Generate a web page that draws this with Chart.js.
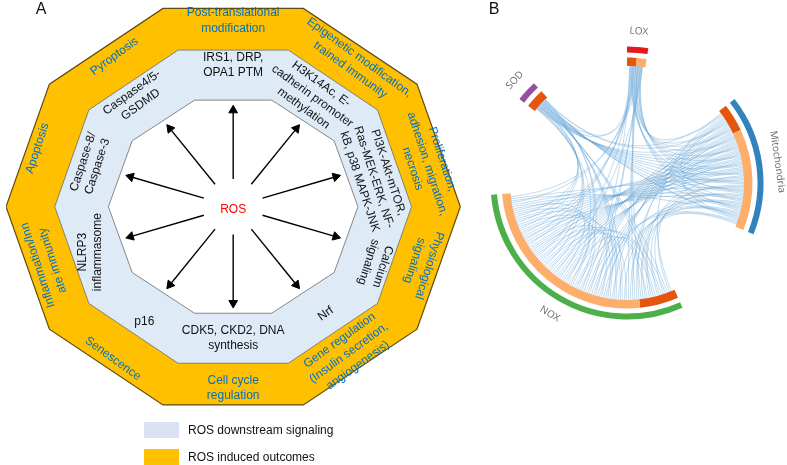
<!DOCTYPE html>
<html lang="en">
<head>
<meta charset="UTF-8">
<title>ROS signaling</title>
<script src="https://cdn.jsdelivr.net/npm/chart.js@4.4.0/dist/chart.umd.min.js"></script>
<style>
  html, body { margin: 0; padding: 0; background: #fff; }
  #chartA { position: absolute; left: 0; top: 0; }
  #chartB { position: absolute; left: 480px; top: 0; }
</style>
</head>
<body>
<canvas id="chartA" width="480" height="465"></canvas>
<canvas id="chartB" width="307" height="465"></canvas>
<script>
// panel A, one entry per side of the decagon, clockwise from the top
var outcomes = [
  'Post-translational\nmodification',
  'Epigenetic modification,\ntrained immunity',
  'Proliferation,\nadhesion, migration,\nnecrosis',
  'Physiological\nsignaling',
  'Gene regulation\n(Insulin secretion,\nangiogenesis)',
  'Cell cycle\nregulation',
  'Senescence',
  'Inflammation/Inn\nate immunity',
  'Apoptosis',
  'Pyroptosis'
];
var signaling = [
  'IRS1, DRP,\nOPA1 PTM',
  'H3K14Ac, E-\ncadherin promoter\nmethylation',
  'PI3K-Akt-mTOR,\nRas-MEK-ERK, NF-\nkB, p38 MAPK-JNK',
  'Calcium\nsignaling',
  'Nrf',
  'CDK5, CKD2, DNA\nsynthesis',
  'p16',
  'NLRP3\ninflammasome',
  'Caspase-8/\nCaspase-3',
  'Caspase4/5-\nGSDMD'
];
var legendLabels = ['ROS downstream signaling', 'ROS induced outcomes'];

// panel B, arcs in degrees clockwise from the top
var groups = ['LOX', 'Mitochondria', 'NOX', 'SOD'];
var groupArc = [9, 60, 109, 9];
var gapArc = [43, 44, 43, 43];
var subArc = [[4.5, 4.5], [13, 47], [18, 91], [9]];
var linkFrom  = ['NOX', 'NOX', 'NOX', 'Mitochondria', 'Mitochondria', 'NOX', 'Mitochondria', 'SOD'];
var linkTo    = ['Mitochondria', 'SOD', 'LOX', 'SOD', 'LOX', 'NOX', 'Mitochondria', 'LOX'];
var linkCount = [52, 15, 13, 14, 12, 12, 4, 2];

// ---- layout of panel A (pixels) ----
var cx = 233, cy = 206;
var rings = [{rx: 233, ry: 214}, {rx: 183, ry: 169}, {rx: 128, ry: 115}];
var outT     = [0.7, 0.6, 0.64, 0.62, 0.58, 0.6, 0.75, 0.6, 0.78, 0.7];
var outShift = [0, 7, 15, 0, 0, 0, 0, 0, 0, 0];
var outRot   = [0, 36, 72, 108, -36, 0, 36, -108, -72, -36];
var sigT     = [0.69, 0.5, 0.5, 0.7, 0.6, 0.5, 0.69, 0.63, 0.62, 0.67];
var sigShift = [0, -7, 12, 15, -6, 0, -2, -3, 0, -9];
var sigRot   = [0, 36, 72, 108, -36, 0, 0, -90, -72, -36];
var COS18 = Math.cos(Math.PI / 10);

function decagon(r) {
  var pts = [];
  for (var i = 0; i <= 10; i++) {
    var a = i * Math.PI / 5;
    pts.push({x: cx + r.rx * Math.cos(a), y: cy - r.ry * Math.sin(a)});
  }
  return pts;
}

function poly(r, fill, border, width, order) {
  return {
    data: decagon(r), showLine: true, fill: 'shape', backgroundColor: fill,
    borderColor: border, borderWidth: width, pointRadius: 0, order: order, tension: 0
  };
}

var datasetsA = [
  poly(rings[0], '#FFC000', '#5e4b14', 1.2, 3),
  poly(rings[1], '#DEEAF6', '#6b6b6b', 0.8, 2),
  poly(rings[2], '#ffffff', '#6b6b6b', 0.8, 1)
];

// one arrow per side, from ROS to the inner ring
for (var k = 0; k < 10; k++) {
  var a = (90 - 36 * k) * Math.PI / 180;
  var ex = COS18 * rings[2].rx * Math.cos(a), ey = -COS18 * rings[2].ry * Math.sin(a);
  var len = Math.sqrt(ex * ex + ey * ey);
  var ux = ex / len, uy = ey / len;
  var tipX = cx + 0.95 * ex, tipY = cy + 0.95 * ey;
  var rot = 90 - Math.atan2(-uy, ux) * 180 / Math.PI;
  datasetsA.push({
    data: [{x: cx + 0.26 * ex, y: cy + 0.26 * ey}, {x: tipX - 5 * ux, y: tipY - 5 * uy}],
    showLine: true, borderColor: '#000', borderWidth: 1.4,
    pointRadius: [0, 5], pointStyle: 'triangle', pointRotation: [0, rot],
    pointBackgroundColor: '#000', pointBorderColor: '#000', pointBorderWidth: 1, order: 0
  });
}

function drawLabel(ctx, text, x, y, rot, lineH) {
  var lines = text.split('\n');
  ctx.save();
  ctx.translate(x, y);
  ctx.rotate(rot * Math.PI / 180);
  ctx.textAlign = 'center';
  ctx.textBaseline = 'middle';
  lines.forEach(function (l, i) {
    ctx.fillText(l, 0, (i - (lines.length - 1) / 2) * lineH);
  });
  ctx.restore();
}

function bandLabels(chart, texts, rin, rout, ts, shifts, rots, color, lineH) {
  var ctx = chart.ctx, sx = chart.scales.x, sy = chart.scales.y;
  ctx.fillStyle = color;
  texts.forEach(function (txt, k) {
    var a = (90 - 36 * k) * Math.PI / 180;
    var rx = rin.rx + ts[k] * (rout.rx - rin.rx);
    var ry = rin.ry + ts[k] * (rout.ry - rin.ry);
    var x = cx + COS18 * rx * Math.cos(a) + shifts[k] * Math.sin(a);
    var y = cy - COS18 * ry * Math.sin(a) + shifts[k] * Math.cos(a);
    drawLabel(ctx, txt, sx.getPixelForValue(x), sy.getPixelForValue(y), rots[k], lineH);
  });
}

var textPlugin = {
  id: 'decagonText',
  afterDatasetsDraw: function (chart) {
    var ctx = chart.ctx, sx = chart.scales.x, sy = chart.scales.y;
    ctx.font = '12px "Liberation Sans", Arial, sans-serif';
    bandLabels(chart, outcomes, rings[1], rings[0], outT, outShift, outRot, '#0070C0', 15.5);
    bandLabels(chart, signaling, rings[2], rings[1], sigT, sigShift, sigRot, '#111', 15);
    ctx.fillStyle = '#ff0000';
    drawLabel(ctx, 'ROS', sx.getPixelForValue(cx), sy.getPixelForValue(cy + 3), 0, 15);
    ctx.fillStyle = '#111';
    ctx.font = '16px "Liberation Sans", Arial, sans-serif';
    drawLabel(ctx, 'A', 41, 10, 0, 16);
    // legend
    var boxColors = ['#DAE3F3', '#FFC000'];
    ctx.font = '12px "Liberation Sans", Arial, sans-serif';
    legendLabels.forEach(function (lab, i) {
      var y = 422 + i * 27;
      ctx.fillStyle = boxColors[i];
      ctx.fillRect(144, y, 35, 16);
      ctx.fillStyle = '#111';
      ctx.textAlign = 'left';
      ctx.textBaseline = 'middle';
      ctx.fillText(lab, 188, y + 9);
    });
  }
};

new Chart(document.getElementById('chartA'), {
  type: 'scatter',
  data: {datasets: datasetsA},
  options: {
    responsive: false, animation: false, events: [],
    layout: {padding: 0},
    scales: {
      x: {type: 'linear', min: 0, max: 480, display: false},
      y: {type: 'linear', min: 0, max: 465, reverse: true, display: false}
    },
    plugins: {legend: {display: false}, tooltip: {enabled: false}}
  },
  plugins: [textPlugin]
});

// ---- panel B ----
var groupColors = ['#E41A1C', '#3182BD', '#4DAF4A', '#984EA3'];
var outerData = [], outerColors = [], innerData = [], innerColors = [];
groups.forEach(function (g, i) {
  outerData.push(groupArc[i], gapArc[i]);
  outerColors.push(groupColors[i], 'rgba(0,0,0,0)');
  subArc[i].forEach(function (v, j) {
    innerData.push(v);
    innerColors.push(j === 0 ? '#E6550D' : '#FDAE6B');
  });
  innerData.push(gapArc[i]);
  innerColors.push('rgba(0,0,0,0)');
});

function gcd(a, b) { return b === 0 ? a : gcd(b, a % b); }

var chordPlugin = {
  id: 'chords',
  afterDatasetsDraw: function (chart) {
    var ctx = chart.ctx;
    var outer = chart.getDatasetMeta(0).data;
    var inner = chart.getDatasetMeta(2).data;
    var ox = outer[0].x, oy = outer[0].y, r = inner[0].innerRadius;
    // collect link ends per group
    var ends = groups.map(function () { return []; });
    var chords = [];
    linkFrom.forEach(function (f, i) {
      var gi = groups.indexOf(f), gj = groups.indexOf(linkTo[i]);
      for (var n = 0; n < linkCount[i]; n++) {
        var c = {a: {g: gi}, b: {g: gj}};
        ends[gi].push(c.a);
        ends[gj].push(c.b);
        chords.push(c);
      }
    });
    ends.forEach(function (list, g) {
      var arc = outer[2 * g];
      var pad = 1.2 * Math.PI / 180;
      var s = arc.startAngle + pad, span = arc.endAngle - arc.startAngle - 2 * pad;
      var n = list.length, step = Math.max(1, Math.round(n * 0.38));
      while (gcd(step, n) !== 1) step++;
      list.forEach(function (e, idx) {
        var j = (idx * step) % n;
        e.ang = s + (j + 0.5) * span / n;
      });
    });
    ctx.save();
    ctx.lineWidth = 0.7;
    ctx.strokeStyle = 'rgba(100, 162, 212, 0.55)';
    chords.forEach(function (c) {
      ctx.beginPath();
      ctx.moveTo(ox + r * Math.cos(c.a.ang), oy + r * Math.sin(c.a.ang));
      ctx.quadraticCurveTo(ox, oy, ox + r * Math.cos(c.b.ang), oy + r * Math.sin(c.b.ang));
      ctx.stroke();
    });
    ctx.restore();

    // group names
    ctx.save();
    ctx.fillStyle = '#6a6a6a';
    ctx.font = '10px "Open Sans", "DejaVu Sans", sans-serif';
    ctx.textAlign = 'center';
    ctx.textBaseline = 'middle';
    groups.forEach(function (g, i) {
      var arc = outer[2 * i];
      var mid = (arc.startAngle + arc.endAngle) / 2;
      var rot = mid + Math.PI / 2;
      var deg = ((rot * 180 / Math.PI) % 360 + 360) % 360;
      if (deg > 90 && deg < 270) rot -= Math.PI;
      ctx.save();
      ctx.translate(ox + 152 * Math.cos(mid), oy + 152 * Math.sin(mid));
      ctx.rotate(rot);
      ctx.fillText(g, 0, 0);
      ctx.restore();
    });
    ctx.fillStyle = '#111';
    ctx.font = '16px "Liberation Sans", Arial, sans-serif';
    ctx.fillText('B', 14, 10);
    ctx.restore();
  }
};

new Chart(document.getElementById('chartB'), {
  type: 'doughnut',
  data: {
    labels: outerData.map(function (v, i) { return i; }),
    datasets: [
      {data: outerData, backgroundColor: outerColors, borderWidth: 0, weight: 6},
      {data: [1], backgroundColor: ['rgba(0,0,0,0)'], borderWidth: 0, weight: 5},
      {data: innerData, backgroundColor: innerColors, borderWidth: 0, weight: 8.5}
    ]
  },
  options: {
    responsive: false, animation: false, events: [],
    rotation: 0, circumference: 360, cutout: '85.7%',
    layout: {padding: {left: 10.5, top: 46.5, right: 23.5, bottom: 145.5}},
    plugins: {legend: {display: false}, tooltip: {enabled: false}}
  },
  plugins: [chordPlugin]
});
</script>
</body>
</html>
